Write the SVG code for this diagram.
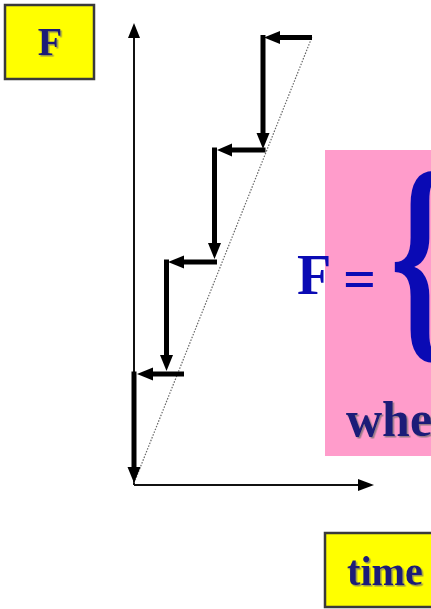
<svg xmlns="http://www.w3.org/2000/svg" width="431" height="609" viewBox="0 0 431 609">
<defs>
<filter id="sh" x="-10%" y="-10%" width="130%" height="130%">
<feDropShadow dx="1.5" dy="1.5" stdDeviation="0.6" flood-color="#6a6a6a" flood-opacity="0.7"/>
</filter>
<style>
.box{fill:#ffff00;stroke:#3a3a3a;stroke-width:2.5}
.lbl{font-family:"Liberation Serif",serif;font-weight:bold;fill:#1a1a78;filter:url(#sh)}
.eq{font-family:"Liberation Serif",serif;font-weight:bold;fill:#0a0ab4}
.thin{stroke:#111;stroke-width:2;fill:none}
.thick{stroke:#000;stroke-width:5;fill:none}
.ah{fill:#000}
</style>
</defs>
<rect width="431" height="609" fill="#ffffff"/>

<g id="node-F">
<rect class="box" x="5" y="5" width="89" height="74"/>
<text class="lbl" x="50" y="55" font-size="40" text-anchor="middle">F</text>
</g>

<g id="node-formula">
<rect x="325" y="150" width="110" height="306" fill="#ff9ccb"/>
<text class="eq" x="297" y="294" font-size="56">F</text>
<text class="eq" x="343" y="298" font-size="58">=</text>
<text class="eq" font-size="120" transform="translate(390,332) scale(1.25,1.93)">{</text>
<text class="lbl" x="346" y="436" font-size="50">whe</text>
</g>

<g id="node-time">
<rect class="box" x="325" y="533" width="112" height="74"/>
<text class="lbl" x="347" y="585" font-size="42" textLength="76" lengthAdjust="spacingAndGlyphs">time</text>
</g>

<g id="connectors">
<!-- axes -->
<line class="thin" x1="134" y1="485" x2="134" y2="36"/>
<polygon class="ah" points="134,23 128,38 140,38"/>
<line class="thin" x1="134" y1="485" x2="360" y2="485"/>
<polygon class="ah" points="374,485 358,479 358,491"/>
<!-- dotted ramp -->
<line x1="134" y1="483" x2="312" y2="37" stroke="#666" stroke-width="1.2" stroke-dasharray="1.5 1.5"/>
<!-- staircase -->
<line class="thick" x1="312" y1="37.5" x2="278" y2="37.5"/>
<polygon class="ah" points="264,37.5 280,31 280,44"/>
<line class="thick" x1="263" y1="35" x2="263" y2="134"/>
<polygon class="ah" points="263,149 256.5,133 269.5,133"/>
<line class="thick" x1="265.5" y1="150" x2="230" y2="150"/>
<polygon class="ah" points="217,150 232,143.5 232,156.5"/>
<line class="thick" x1="214.5" y1="147.5" x2="214.5" y2="245"/>
<polygon class="ah" points="214.5,259 208,243 221,243"/>
<line class="thick" x1="217" y1="262" x2="182" y2="262"/>
<polygon class="ah" points="168,262 184,255.5 184,268.5"/>
<line class="thick" x1="166.5" y1="259.5" x2="166.5" y2="356"/>
<polygon class="ah" points="166.5,371 160,355 173,355"/>
<line class="thick" x1="184" y1="374" x2="152" y2="374"/>
<polygon class="ah" points="137,374 153,367.5 153,380.5"/>
<line class="thick" x1="134" y1="371.5" x2="134" y2="468"/>
<polygon class="ah" points="134,483 127.5,467 140.5,467"/>
</g>
</svg>
